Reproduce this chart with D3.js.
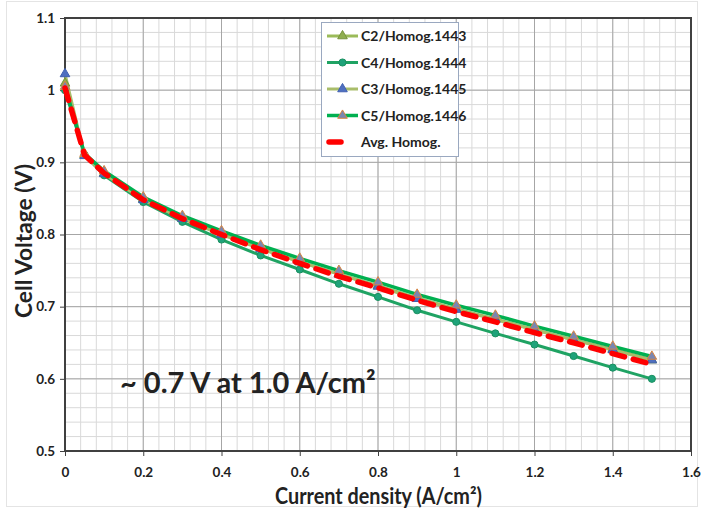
<!DOCTYPE html>
<html><head><meta charset="utf-8">
<script src="https://cdn.jsdelivr.net/npm/d3@7"></script>
<style>body{margin:0;background:#fff}svg{display:block}text{font-family:Lato,"Open Sans",sans-serif;font-weight:bold;fill:#222}</style>
</head><body><svg id="c" width="701" height="510"></svg>
<script>
const currentDensity=[0,0.05,0.1,0.2,0.3,0.4,0.5,0.6,0.7,0.8,0.9,1.0,1.1,1.2,1.3,1.4,1.5];
const c2=[1.0095,0.910,0.885,0.849,0.822,0.801,0.781,0.762,0.745,0.729,0.712,0.697,0.683,0.668,0.654,0.641,0.626];
const c4=[1.000,0.9105,0.882,0.845,0.8175,0.793,0.771,0.7515,0.7317,0.7135,0.695,0.679,0.663,0.6475,0.6316,0.6155,0.600];
const c3=[1.0225,0.909,0.884,0.848,0.822,0.800,0.780,0.762,0.745,0.728,0.711,0.696,0.682,0.668,0.654,0.640,0.626];
const c5=[1.005,0.912,0.888,0.852,0.826,0.805,0.785,0.767,0.750,0.734,0.717,0.702,0.688,0.673,0.659,0.645,0.631];
const avg=[1.003,0.910,0.885,0.848,0.822,0.800,0.779,0.760,0.742,0.726,0.709,0.693,0.679,0.664,0.650,0.635,0.620];
const seriesNames=["C2/Homog.1443","C4/Homog.1444","C3/Homog.1445","C5/Homog.1446","Avg. Homog."];
const xTicks=[0,0.2,0.4,0.6,0.8,1,1.2,1.4,1.6];
const yTicks=[0.5,0.6,0.7,0.8,0.9,1,1.1];
const annotation="~ 0.7 V at 1.0 A/cm²";

const svg=d3.select("#c");
const x=d3.scaleLinear().domain([0,1.6]).range([65,691]);
const y=d3.scaleLinear().domain([0.5,1.1]).range([451,18]);

// outer frame
svg.append("rect").attr("x",6.5).attr("y",1.5).attr("width",691).attr("height",505).attr("fill","none").attr("stroke","#e4e4e4");

// minor grid
const g=svg.append("g");
g.selectAll(".vx").data(d3.range(0,1.6001,0.04)).join("line")
 .attr("x1",d=>x(d)).attr("x2",d=>x(d)).attr("y1",y(0.5)).attr("y2",y(1.1))
 .attr("stroke","#d9d9d9").attr("stroke-width",1);
g.selectAll(".hy").data(d3.range(0.5,1.1001,0.02)).join("line")
 .attr("y1",d=>y(d)).attr("y2",d=>y(d)).attr("x1",x(0)).attr("x2",x(1.6))
 .attr("stroke","#d9d9d9").attr("stroke-width",1);
// major grid
g.selectAll(".mx").data(xTicks).join("line")
 .attr("x1",d=>x(d)).attr("x2",d=>x(d)).attr("y1",y(0.5)).attr("y2",y(1.1))
 .attr("stroke","#a6a6a6").attr("stroke-width",1);
g.selectAll(".my").data(yTicks).join("line")
 .attr("y1",d=>y(d)).attr("y2",d=>y(d)).attr("x1",x(0)).attr("x2",x(1.6))
 .attr("stroke","#a6a6a6").attr("stroke-width",1);

// plot border
svg.append("rect").attr("x",x(0)).attr("y",y(1.1)).attr("width",x(1.6)-x(0)).attr("height",y(0.5)-y(1.1))
 .attr("fill","none").attr("stroke","#404040").attr("stroke-width",2);

// axes
const fmt=d=>d3.format("")(+d.toFixed(1));
const xa=svg.append("g").attr("transform",`translate(0,${y(0.5)})`)
 .call(d3.axisBottom(x).tickValues(xTicks).tickSize(5).tickPadding(11).tickFormat(fmt));
xa.select(".domain").remove();
xa.selectAll("line").attr("stroke","#404040");
xa.selectAll("text").attr("font-size",13.5).attr("font-family","Lato").attr("font-weight","bold").attr("fill","#222");
const ya=svg.append("g").attr("transform",`translate(${x(0)},0)`)
 .call(d3.axisLeft(y).tickValues(yTicks).tickSize(5).tickPadding(5).tickFormat(fmt));
ya.select(".domain").remove();
ya.selectAll("line").attr("stroke","#404040");
ya.selectAll("text").attr("font-size",13.5).attr("font-family","Lato").attr("font-weight","bold").attr("fill","#222");

svg.append("text").attr("x",378.5).attr("y",504).attr("text-anchor","middle").attr("font-size",22)
 .attr("textLength",207).attr("lengthAdjust","spacingAndGlyphs").text("Current density (A/cm²)");
svg.append("text").attr("transform","translate(32,241) rotate(-90)").attr("text-anchor","middle").attr("font-size",22)
 .attr("textLength",154).attr("lengthAdjust","spacingAndGlyphs").text("Cell Voltage (V)");

// series
const styles=[
 {data:c2,color:"#9bbb59",w:3,marker:"tri",mfill:"#8fae4f",mstroke:"#77933c"},
 {data:c4,color:"#1fa363",w:3,marker:"circ",mfill:"#1fa37a",mstroke:"#1a9060"},
 {data:c3,color:"#a9bd6a",w:3,marker:"tri",mfill:"#4f6fc0",mstroke:"#4060b0"},
 {data:c5,color:"#00b050",w:3.5,marker:"tri",mfill:"#7a86b0",mstroke:"#d9843f"},
];
const line=d3.line().x((d,i)=>x(currentDensity[i])).y(d=>y(d));
const tri=d3.symbol().type(d3.symbolTriangle).size(40);
const circ=d3.symbol().type(d3.symbolCircle).size(40);
styles.forEach(s=>{
 svg.append("path").datum(s.data).attr("d",line).attr("fill","none").attr("stroke",s.color).attr("stroke-width",s.w);
});
styles.forEach(s=>{
 svg.append("g").selectAll("path").data(s.data).join("path")
  .attr("transform",(d,i)=>`translate(${x(currentDensity[i])},${y(d)})`)
  .attr("d",s.marker==="tri"?tri:circ).attr("fill",s.mfill).attr("stroke",s.mstroke).attr("stroke-width",1);
});
svg.append("path").datum(avg).attr("d",line).attr("fill","none").attr("stroke","#ff0000")
 .attr("stroke-width",5.5).attr("stroke-dasharray","13,9").attr("stroke-linecap","round");

// legend
const lg=svg.append("g");
lg.append("rect").attr("x",321.5).attr("y",22.5).attr("width",137).attr("height",134)
 .attr("fill","#fff").attr("stroke","#9aa8c0").attr("stroke-width",1);
const ly=[36,62.5,89,115.5,142];
seriesNames.forEach((n,i)=>{
 const yy=ly[i];
 if(i<4){
  const s=styles[i];
  lg.append("line").attr("x1",327).attr("x2",358).attr("y1",yy).attr("y2",yy).attr("stroke",s.color).attr("stroke-width",s.w);
  lg.append("path").attr("transform",`translate(342.5,${yy})`).attr("d",s.marker==="tri"?tri:circ)
   .attr("fill",s.mfill).attr("stroke",s.mstroke);
 } else {
  lg.append("line").attr("x1",329).attr("x2",341).attr("y1",yy).attr("y2",yy).attr("stroke","#ff0000").attr("stroke-width",5.5).attr("stroke-linecap","round");
 }
 lg.append("text").attr("x",361).attr("y",yy+5).attr("font-size",14).text(n);
});

svg.append("text").attr("x",120).attr("y",393).attr("font-size",29).text(annotation);
</script></body></html>
